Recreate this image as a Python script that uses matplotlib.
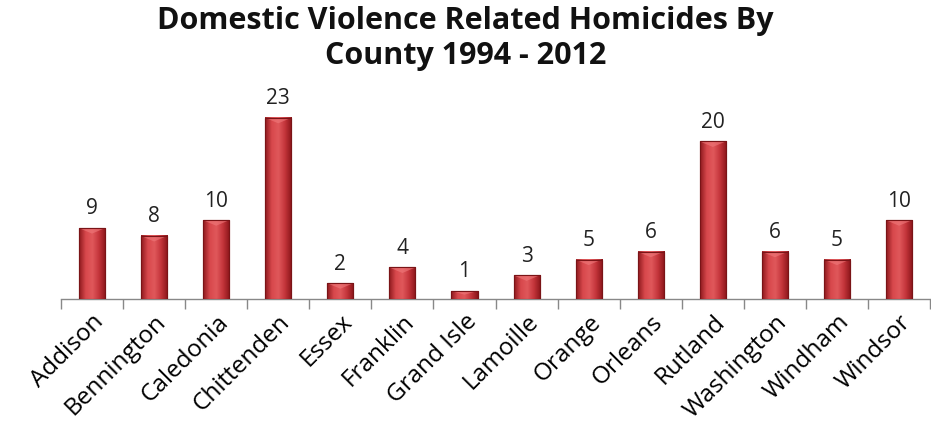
import numpy as np
import matplotlib.pyplot as plt
from matplotlib.colors import LinearSegmentedColormap

counties = ['Addison', 'Bennington', 'Caledonia', 'Chittenden', 'Essex', 'Franklin',
            'Grand Isle', 'Lamoille', 'Orange', 'Orleans', 'Rutland', 'Washington',
            'Windham', 'Windsor']
homicides = [9, 8, 10, 23, 2, 4, 1, 3, 5, 6, 20, 6, 5, 10]
title = 'Domestic Violence Related Homicides By\nCounty 1994 - 2012'

plt.rcParams['font.family'] = ['Open Sans', 'DejaVu Sans']

fig = plt.figure(figsize=(9.31, 4.30), dpi=100)
ax = fig.add_axes([0.0655, 0.3047, 0.9335, 0.458])

x = np.arange(len(counties))
bars = ax.bar(x, homicides, width=0.42, color='#C0282D', edgecolor='#8E1A1E', linewidth=0.8, zorder=2)

# cylinder-ish shading across each bar
cmap = LinearSegmentedColormap.from_list('shade', ['#8E1A1E', '#D8484C', '#E0585B', '#C3343A', '#8A1519'])
grad = np.linspace(0, 1, 64).reshape(1, -1)
for b in bars:
    x0, w, h = b.get_x(), b.get_width(), b.get_height()
    ax.imshow(grad, cmap=cmap, aspect='auto', extent=(x0, x0 + w, 0, h), zorder=3)
    # lighter chevron cap at the top
    cap = min(0.7, h * 0.45)
    ax.fill([x0, x0 + w, x0 + w / 2], [h, h, h - cap], color='#F07A7C', alpha=0.6, zorder=4, lw=0)
    ax.add_patch(plt.Rectangle((x0, 0), w, h, fill=False, edgecolor='#7A1417', lw=0.8, zorder=5))
    ax.text(x0 + w / 2, h + 1.1, f'{h:g}', ha='center', va='bottom', fontsize=15, color='#222222')

ax.set_xlim(-0.5, len(counties) - 0.5)
ax.set_ylim(0, 25)

ax.set_xticks(x)
ax.set_xticklabels(counties, rotation=45, ha='right', rotation_mode='anchor', fontsize=17.5)
ax.tick_params(axis='x', which='major', length=0, pad=8)
ax.set_xticks(np.arange(-0.5, len(counties)), minor=True)
ax.tick_params(axis='x', which='minor', length=7, color='#888888', width=1)
ax.set_yticks([])

for s in ['top', 'right', 'left']:
    ax.spines[s].set_visible(False)
ax.spines['bottom'].set_color('#888888')
ax.spines['bottom'].set_linewidth(1)

fig.text(0.5, 0.985, title, ha='center', va='top', fontsize=22, fontweight='bold',
         linespacing=1.2, color='#111111')

fig.savefig('out.png', dpi=100)
